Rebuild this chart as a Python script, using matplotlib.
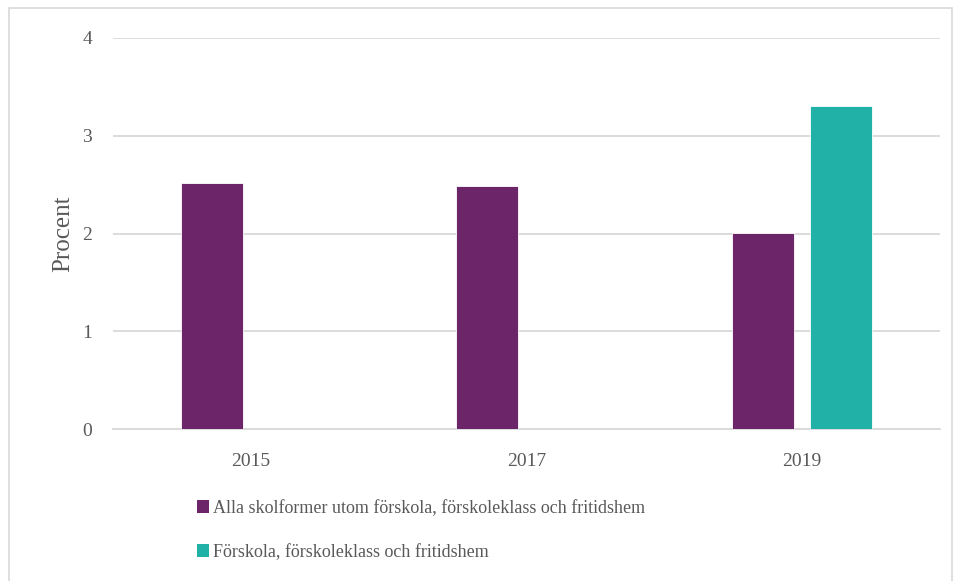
import matplotlib
matplotlib.use("Agg")
import matplotlib.pyplot as plt
from matplotlib.patches import Rectangle, Patch
import numpy as np

plt.rcParams['font.family'] = ['Liberation Serif', 'DejaVu Serif']

years = ['2015', '2017', '2019']
alla = [2.52, 2.49, 2.01]
forskola = [np.nan, np.nan, 3.30]
series_names = ['Alla skolformer utom förskola, förskoleklass och fritidshem',
                'Förskola, förskoleklass och fritidshem']
colors = ['#6B2568', '#22B1A6']

fig = plt.figure(figsize=(9.57, 5.81), dpi=100)
ax = fig.add_axes([0.118, 0.2616, 0.864, 0.673])

x = np.arange(len(years))
w = 0.225
off = 0.141
ax.bar(x - off, alla, w, color=colors[0], edgecolor='white', linewidth=0.6, zorder=3)
ax.bar(x + off, forskola, w, color=colors[1], edgecolor='white', linewidth=0.6, zorder=3)

ax.set_xlim(-0.5, 2.5)
ax.set_ylim(0, 4)
ax.set_yticks([0, 1, 2, 3, 4])
ax.set_xticks(x)
ax.set_xticklabels(years)
ax.grid(axis='y', color='#D9D9D9', linewidth=1.3, zorder=0)
for s in ['top', 'right', 'left']:
    ax.spines[s].set_visible(False)
ax.spines['bottom'].set_color('#D9D9D9')
ax.spines['bottom'].set_linewidth(1.3)
ax.tick_params(axis='both', length=0, labelsize=14, labelcolor='#595959')
ax.tick_params(axis='y', pad=15)
ax.tick_params(axis='x', pad=17)
ax.set_ylabel('Procent', fontsize=18, color='#595959', labelpad=6)

handles = [Patch(facecolor=c) for c in colors]
fig.legend(handles, series_names, loc='upper left', bbox_to_anchor=(0.198, 0.152),
           frameon=False, fontsize=13, labelcolor='#595959', handlelength=0.7,
           handleheight=0.7, handletextpad=0.2, labelspacing=1.5, borderaxespad=0)

fig.patches.append(Rectangle((9 / 957, -0.01), 0.985, 1 - 8 / 581 + 0.01,
                             transform=fig.transFigure, fill=False,
                             edgecolor='#D9D9D9', linewidth=1.2))

fig.savefig('out.png', dpi=100)
